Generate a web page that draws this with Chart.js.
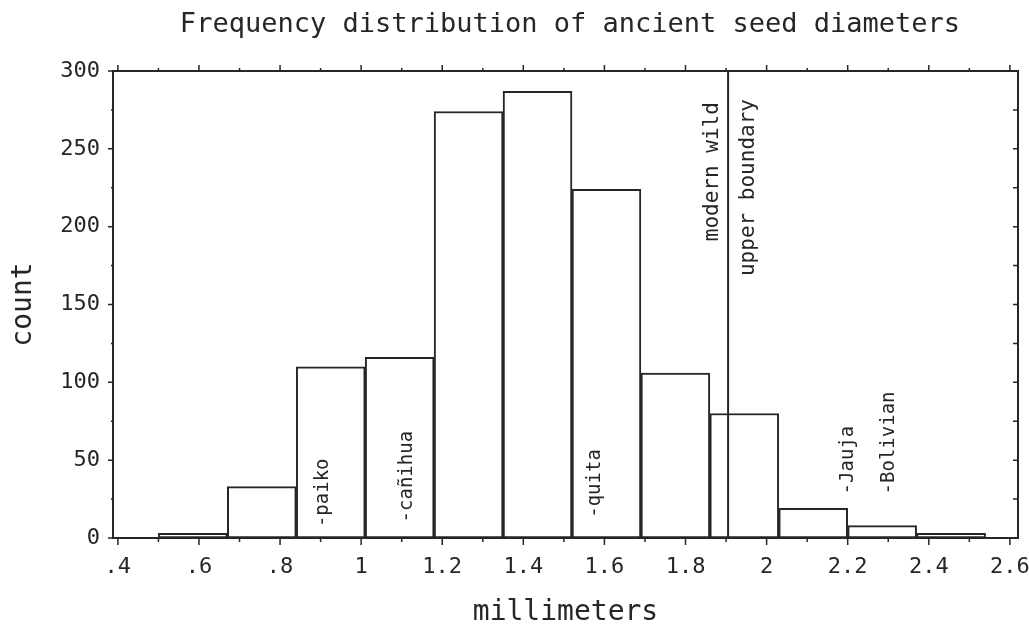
<!DOCTYPE html>
<html>
<head>
<meta charset="utf-8">
<script src="https://cdn.jsdelivr.net/npm/chart.js@4.4.0/dist/chart.umd.min.js"></script>
<style>
  html, body { margin: 0; padding: 0; background: #ffffff; }
</style>
</head>
<body>
<canvas id="seed-chart" width="1029" height="630"></canvas>
<script>
// Data
const binStarts = [0.50, 0.67, 0.84, 1.01, 1.18, 1.35, 1.52, 1.69, 1.86, 2.03, 2.20, 2.37];
const binWidth = 0.17;
const counts = [3, 33, 110, 116, 274, 287, 224, 106, 80, 19, 8, 3];

const xTicks = [0.4, 0.6, 0.8, 1.0, 1.2, 1.4, 1.6, 1.8, 2.0, 2.2, 2.4, 2.6];
const xTickLabels = ['.4', '.6', '.8', '1', '1.2', '1.4', '1.6', '1.8', '2', '2.2', '2.4', '2.6'];
const yTicks = [0, 50, 100, 150, 200, 250, 300];

// Annotations
const boundaryX = 1.905;
const boundaryLabels = ['modern wild', 'upper boundary'];
const boundaryLabelX = [1.867, 1.956];
const boundaryLabelTop = [280, 282];

const markerNames = ['-paiko', '-cañihua', '-quita', '-Jauja', '-Bolivian'];
const markerX = [0.906, 1.114, 1.578, 2.202, 2.301];
const markerY = [7, 10, 13, 28, 28];

const INK = '#262626';
const FONT = '"DejaVu Sans Mono", monospace';

function midpoints(arr) {
  const out = [];
  for (let i = 0; i < arr.length - 1; i++) out.push((arr[i] + arr[i + 1]) / 2);
  return out;
}

// frame, tick marks on all four sides, boundary line and rotated notes
const decorPlugin = {
  id: 'decor',
  afterDatasetsDraw(chart) {
    const { ctx, chartArea: a, scales: { x, y } } = chart;
    ctx.save();
    ctx.strokeStyle = INK;
    ctx.lineWidth = 2;
    ctx.strokeRect(a.left, a.top, a.right - a.left, a.bottom - a.top);

    ctx.lineWidth = 1.5;
    ctx.beginPath();
    xTicks.forEach(v => {
      const px = x.getPixelForValue(v);
      ctx.moveTo(px, a.bottom); ctx.lineTo(px, a.bottom + 7);
      ctx.moveTo(px, a.top); ctx.lineTo(px, a.top - 6);
    });
    midpoints(xTicks).forEach(v => {
      const px = x.getPixelForValue(v);
      ctx.moveTo(px, a.bottom); ctx.lineTo(px, a.bottom + 4);
      ctx.moveTo(px, a.top); ctx.lineTo(px, a.top - 3);
    });
    yTicks.forEach(v => {
      const py = y.getPixelForValue(v);
      ctx.moveTo(a.left, py); ctx.lineTo(a.left - 5, py);
      ctx.moveTo(a.right, py); ctx.lineTo(a.right - 5, py);
    });
    midpoints(yTicks).forEach(v => {
      const py = y.getPixelForValue(v);
      ctx.moveTo(a.left, py); ctx.lineTo(a.left - 2, py);
      ctx.moveTo(a.right, py); ctx.lineTo(a.right - 5, py);
    });
    ctx.stroke();

    // modern wild upper boundary
    const bx = x.getPixelForValue(boundaryX);
    ctx.lineWidth = 2;
    ctx.beginPath();
    ctx.moveTo(bx, a.top); ctx.lineTo(bx, a.bottom);
    ctx.stroke();

    ctx.fillStyle = INK;
    ctx.textBaseline = 'middle';
    ctx.font = '21px ' + FONT;
    boundaryLabels.forEach((t, i) => {
      ctx.save();
      ctx.translate(x.getPixelForValue(boundaryLabelX[i]), y.getPixelForValue(boundaryLabelTop[i]));
      ctx.rotate(-Math.PI / 2);
      ctx.textAlign = 'right';
      ctx.fillText(t, 0, 0);
      ctx.restore();
    });

    ctx.font = '19px ' + FONT;
    markerNames.forEach((t, i) => {
      ctx.save();
      ctx.translate(x.getPixelForValue(markerX[i]), y.getPixelForValue(markerY[i]));
      ctx.rotate(-Math.PI / 2);
      ctx.textAlign = 'left';
      ctx.fillText(t, 0, 0);
      ctx.restore();
    });

    // chart title
    ctx.font = '27px ' + FONT;
    ctx.textAlign = 'center';
    ctx.textBaseline = 'alphabetic';
    ctx.fillText('Frequency distribution of ancient seed diameters', 570, 32);
    ctx.restore();
  }
};

const ctx = document.getElementById('seed-chart');
window.seedChart = new Chart(ctx, {
  type: 'bar',
  data: {
    datasets: [{
      data: binStarts.map((s, i) => ({ x: s + binWidth / 2, y: counts[i] })),
      backgroundColor: '#ffffff',
      borderColor: INK,
      borderWidth: 2,
      borderSkipped: false,
      barPercentage: 1,
      categoryPercentage: 1
    }]
  },
  options: {
    responsive: false,
    animation: false,
    devicePixelRatio: 1,
    layout: { padding: { top: 71, right: 11, left: 0, bottom: 0 } },
    plugins: {
      legend: { display: false },
      tooltip: { enabled: false },
      title: { display: false }
    },
    scales: {
      x: {
        type: 'linear',
        min: 0.388,
        max: 2.62,
        offset: false,
        grid: { display: false },
        border: { display: false },
        afterBuildTicks: s => { s.ticks = xTicks.map(v => ({ value: v })); },
        afterFit: s => { s.height = 92; s.paddingLeft = 0; s.paddingRight = 0; },
        ticks: {
          callback: (v, i) => xTickLabels[i],
          color: INK,
          font: { family: FONT, size: 22 },
          padding: 8,
          maxRotation: 0,
          autoSkip: false
        },
        title: {
          display: true,
          text: 'millimeters',
          color: INK,
          font: { family: FONT, size: 28 },
          padding: { top: 0, bottom: 0 }
        }
      },
      y: {
        min: 0,
        max: 300,
        grid: { display: false },
        border: { display: false },
        afterBuildTicks: s => { s.ticks = yTicks.map(v => ({ value: v })); },
        afterFit: s => { s.width = 113; s.paddingTop = 0; s.paddingBottom = 0; },
        ticks: {
          callback: v => String(v),
          color: INK,
          font: { family: FONT, size: 22 },
          padding: 5
        },
        title: {
          display: true,
          text: 'count',
          color: INK,
          font: { family: FONT, size: 28 },
          padding: { top: 7, bottom: 0 }
        }
      }
    }
  },
  plugins: [decorPlugin]
});
</script>
</body>
</html>
